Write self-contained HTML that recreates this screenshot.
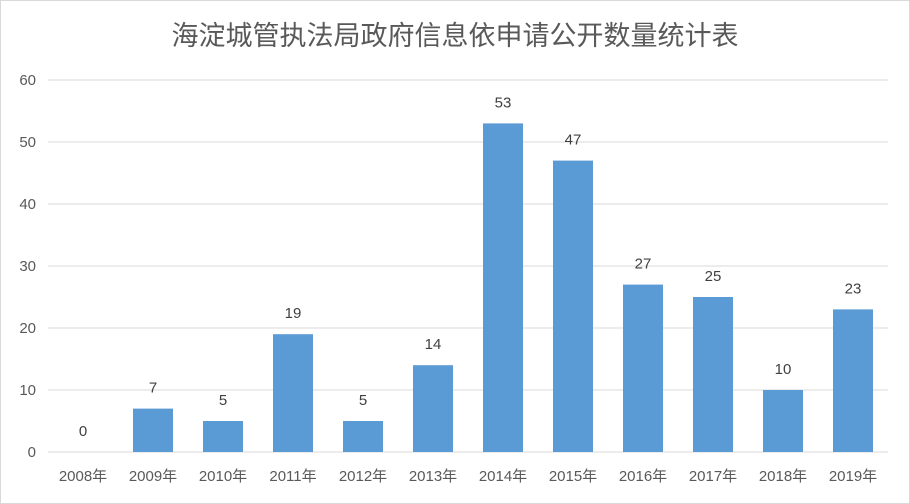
<!DOCTYPE html>
<html><head><meta charset="utf-8"><style>
body{margin:0;background:#fff;}
svg{display:block;font-family:"Liberation Sans","Noto Sans CJK SC",sans-serif;}
</style></head><body>
<svg id="chart" width="910" height="504" viewBox="0 0 910 504">
<rect x="0.5" y="0.5" width="909" height="503" fill="#fff" stroke="#d9d9d9"/>
<text x="455" y="45" text-anchor="middle" font-size="27" fill="#595959" font-family="'Noto Sans CJK SC',sans-serif">海淀城管执法局政府信息依申请公开数量统计表</text>
<g id="grid"></g><g id="bars"></g><g id="labels"></g>
</svg>
<script>
const categories=["2008年","2009年","2010年","2011年","2012年","2013年","2014年","2015年","2016年","2017年","2018年","2019年"];
const values=[0,7,5,19,5,14,53,47,27,25,10,23];
const yTicks=[0,10,20,30,40,50,60];
const NS="http://www.w3.org/2000/svg";
const x0=48,x1=888,yBase=452,yTop=80,yMax=60;
const y=v=>yBase-(v/yMax)*(yBase-yTop);
const band=(x1-x0)/categories.length;
const xc=i=>x0+band*(i+0.5);
function mk(tag,attrs,parent){const e=document.createElementNS(NS,tag);for(const k in attrs)e.setAttribute(k,attrs[k]);parent.appendChild(e);return e;}
const grid=document.getElementById('grid'),bars=document.getElementById('bars'),labels=document.getElementById('labels');
yTicks.forEach(t=>{
 const l=mk('line',{x1:x0,x2:x1,y1:y(t),y2:y(t),stroke:'#d9d9d9','stroke-width':1},grid);
 
 
 const tx=mk('text',{x:36,y:y(t)+5,'text-anchor':'end','font-size':15,fill:'#595959'},grid);
 tx.textContent=t;
 
 
});
categories.forEach((c,i)=>{
 const v=values[i];
 const r=mk('rect',{x:xc(i)-20,y:y(v),width:40,height:yBase-y(v),fill:'#5b9bd5'},bars);
 
 
 const vl=mk('text',{x:xc(i),y:y(v)-16,'text-anchor':'middle','font-size':15,fill:'#404040'},labels);
 vl.textContent=v;
 
 
 const cl=mk('text',{x:xc(i),y:481,'text-anchor':'middle','font-size':15,fill:'#595959'},labels);
 cl.textContent=c;
 
 
});
</script>
</body></html>
